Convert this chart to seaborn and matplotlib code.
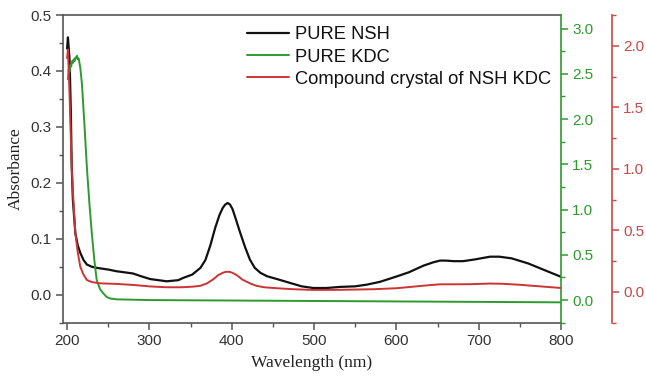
import numpy as np
import pandas as pd
import matplotlib
matplotlib.use("Agg")
import matplotlib.pyplot as plt
from matplotlib.ticker import MultipleLocator, FormatStrFormatter
import seaborn as sns

# ---- data ----
nsh_wl = [200, 201, 203, 204.5, 205.6, 207, 210, 213, 216, 220, 224, 230, 236, 250, 260, 280, 290,
          301, 321, 335, 341, 352, 362, 368, 374, 380, 385, 389, 392, 395, 398, 401, 405, 410, 416,
          422, 428, 435, 443, 455, 471, 485, 499, 515, 532, 550, 564, 580, 601, 615, 633, 645, 653,
          660, 670, 681, 695, 714, 725, 740, 760, 780, 800]
nsh_abs = [0.44, 0.46, 0.42, 0.33, 0.23, 0.17, 0.11, 0.088, 0.075, 0.062, 0.054, 0.05, 0.048, 0.045,
           0.042, 0.038, 0.033, 0.028, 0.024, 0.026, 0.03, 0.036, 0.048, 0.062, 0.088, 0.12, 0.142,
           0.155, 0.161, 0.164, 0.161, 0.153, 0.135, 0.112, 0.086, 0.063, 0.048, 0.039, 0.033, 0.028,
           0.021, 0.015, 0.012, 0.012, 0.014, 0.015, 0.018, 0.023, 0.033, 0.04, 0.052, 0.058, 0.061,
           0.061, 0.06, 0.06, 0.063, 0.068, 0.068, 0.065, 0.056, 0.044, 0.032]

kdc_wl = [201, 202, 203, 204, 205, 206, 207, 208, 209, 210, 211, 212, 213, 214, 216, 218, 221, 224,
          227, 230, 233, 236, 240, 244, 248, 252, 260, 300, 400, 500, 600, 700, 800]
kdc_abs = [2.44, 2.55, 2.52, 2.6, 2.58, 2.64, 2.62, 2.66, 2.64, 2.68, 2.67, 2.70, 2.66, 2.67, 2.57,
           2.39, 1.95, 1.47, 1.08, 0.74, 0.45, 0.22, 0.12, 0.074, 0.035, 0.018, 0.008, 0.0, -0.005,
           -0.01, -0.015, -0.02, -0.025]

cc_wl = [200, 201, 203, 205.6, 208, 210, 213, 216, 220, 224, 230, 240, 260, 280, 300, 321, 340, 353,
         362, 370, 377, 384, 389, 392, 395, 398, 401, 406, 413, 422, 430, 439, 455, 475, 499, 530,
         572, 600, 613, 635, 653, 670, 690, 714, 730, 750, 775, 800]
cc_abs = [1.9, 1.97, 1.6, 1.01, 0.7, 0.48, 0.32, 0.205, 0.14, 0.097, 0.08, 0.07, 0.065, 0.057, 0.045,
          0.038, 0.038, 0.043, 0.05, 0.07, 0.1, 0.138, 0.155, 0.162, 0.164, 0.162, 0.155, 0.137, 0.1,
          0.07, 0.05, 0.038, 0.03, 0.022, 0.016, 0.017, 0.022, 0.03, 0.038, 0.052, 0.062, 0.062,
          0.063, 0.068, 0.066, 0.058, 0.045, 0.032]

labels = ["PURE NSH", "PURE KDC", "Compound crystal of NSH KDC"]

# ---- style ----
sns.set_style("white")
plt.rcParams['font.family'] = ['Liberation Sans', 'DejaVu Sans']

BLACK = "#111111"
GREEN = "#2e9a2e"
RED = "#cc3333"
RED_AX = "#c94848"
GRAY = "#555555"

fig = plt.figure(figsize=(6.46, 3.78), dpi=100)
ax = fig.add_axes([0.0975, 0.1463, 0.8684 - 0.0975, 0.9603 - 0.1463])
ax2 = ax.twinx()
ax3 = ax.twinx()

df1 = pd.DataFrame({"wl": nsh_wl, "a": nsh_abs})
df2 = pd.DataFrame({"wl": kdc_wl, "a": kdc_abs})
df3 = pd.DataFrame({"wl": cc_wl, "a": cc_abs})

sns.lineplot(data=df1, x="wl", y="a", ax=ax, color=BLACK, lw=1.6, label=labels[0], legend=False)
sns.lineplot(data=df2, x="wl", y="a", ax=ax2, color=GREEN, lw=1.4, label=labels[1], legend=False)
sns.lineplot(data=df3, x="wl", y="a", ax=ax3, color=RED, lw=1.4, label=labels[2], legend=False)

ax.set_xlim(195, 800)
ax.set_ylim(-0.05, 0.5)
ax2.set_ylim(-0.25, 3.15)
ax3.set_ylim(-0.25, 2.25)

ax.xaxis.set_major_locator(MultipleLocator(100))
ax.xaxis.set_minor_locator(MultipleLocator(50))
ax.yaxis.set_major_locator(MultipleLocator(0.1))
ax.yaxis.set_minor_locator(MultipleLocator(0.05))
for a in (ax2, ax3):
    a.yaxis.set_major_locator(MultipleLocator(0.5))
    a.yaxis.set_minor_locator(MultipleLocator(0.25))

ax.set_xlabel("Wavelength (nm)", family=['Liberation Serif'], fontsize=12.5, color="#222222", labelpad=5)
ax.set_ylabel("Absorbance", family=['Liberation Serif'], fontsize=12.5, color="#222222", labelpad=5)
ax2.set_ylabel("")
ax3.set_ylabel("")

# spines
for s in ("top", "left", "bottom"):
    ax.spines[s].set_color(GRAY)
    ax.spines[s].set_linewidth(1.2)
ax.spines["right"].set_visible(False)
for s in ("top", "left", "bottom"):
    ax2.spines[s].set_visible(False)
    ax3.spines[s].set_visible(False)
ax2.spines["right"].set_color(GREEN)
ax2.spines["right"].set_linewidth(1.2)
ax3.spines["right"].set_position(("axes", 1.102))
ax3.spines["right"].set_color(RED_AX)
ax3.spines["right"].set_linewidth(1.2)

ax.tick_params(axis="both", which="major", direction="out", length=5, width=1.1, color=GRAY,
               labelsize=11, labelcolor="#333333", pad=3)
ax.tick_params(axis="both", which="minor", direction="out", length=3, width=1.0, color=GRAY)
ax.tick_params(axis="x", which="both", bottom=True)
ax.tick_params(axis="y", which="both", left=True)
ax2.tick_params(axis="y", which="major", direction="out", length=5, width=1.1, color=GREEN,
                labelsize=11, labelcolor=GREEN, pad=3, right=True)
ax2.tick_params(axis="y", which="minor", direction="out", length=3, width=1.0, color=GREEN, right=True)
ax3.tick_params(axis="y", which="major", direction="out", length=5, width=1.1, color=RED_AX,
                labelsize=11, labelcolor=RED_AX, pad=3, right=True)
ax3.tick_params(axis="y", which="minor", direction="out", length=3, width=1.0, color=RED_AX, right=True)

for a in (ax, ax2, ax3):
    a.yaxis.set_major_formatter(FormatStrFormatter("%.1f"))

handles = ax.get_lines()[:1] + ax2.get_lines()[:1] + ax3.get_lines()[:1]
leg = fig.legend(handles, labels, loc="upper left", bbox_to_anchor=(0.382, 0.93),
                 frameon=False, fontsize=13.2, handlelength=2.3, handletextpad=0.33,
                 borderpad=0, borderaxespad=0, labelspacing=0.28)
for t in leg.get_texts():
    t.set_color("#111111")

fig.savefig("out.png", dpi=100)
